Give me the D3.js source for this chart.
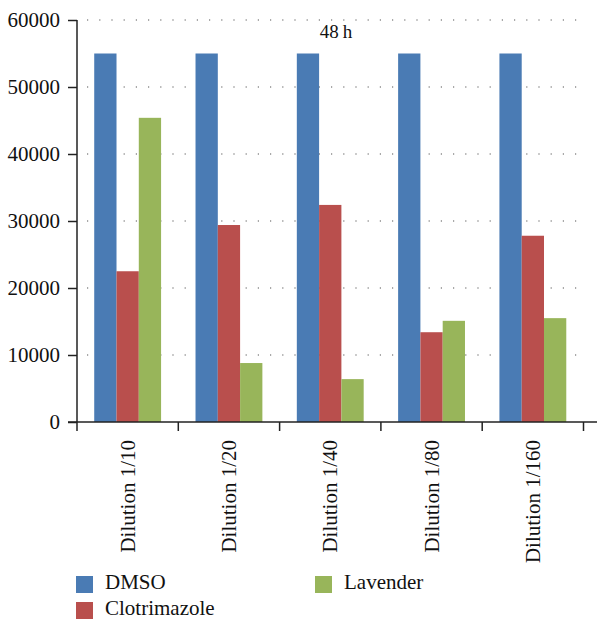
<!DOCTYPE html>
<html>
<head>
<meta charset="utf-8">
<script src="https://cdn.jsdelivr.net/npm/d3@7"></script>
<style>
  body { margin: 0; background: #fff; }
</style>
</head>
<body>
<div id="chart"></div>
<script>
var categories = ["Dilution 1/10", "Dilution 1/20", "Dilution 1/40", "Dilution 1/80", "Dilution 1/160"];
var seriesNames = ["DMSO", "Clotrimazole", "Lavender"];
var dmso = [55000, 55000, 55000, 55000, 55000];
var clotrimazole = [22500, 29400, 32400, 13400, 27800];
var lavender = [45400, 8800, 6400, 15100, 15500];
var yTicks = [0, 10000, 20000, 30000, 40000, 50000, 60000];
var colors = ["#4a7bb4", "#b94f4d", "#98b55a"];

var FONT = "'Liberation Serif', 'Times New Roman', serif";

var svgWidth = 597;
var svgHeight = 619;
var margin = { top: 20, right: 14, bottom: 197, left: 77 };
var width = svgWidth - margin.left - margin.right;
var height = svgHeight - margin.top - margin.bottom;

var svg = d3.select("#chart").append("svg")
  .attr("width", svgWidth)
  .attr("height", svgHeight)
  .attr("font-family", FONT);

var g = svg.append("g").attr("transform", `translate(${margin.left}, ${margin.top})`);

var values = [dmso, clotrimazole, lavender];
var rows = categories.map(function(c, i) {
  return { cat: c, vals: values.map(function(v) { return v[i]; }) };
});

var x0 = d3.scaleBand().domain(categories).range([0, 506.5]).paddingInner(0.34).paddingOuter(0.17);
var x1 = d3.scaleBand().domain(seriesNames).range([0, x0.bandwidth()]);
var y = d3.scaleLinear().domain([0, 60000]).range([height, 0]);

// dotted gridlines
g.selectAll(".grid")
  .data(yTicks.slice(1))
  .enter().append("line")
  .attr("x1", 10).attr("x2", width)
  .attr("y1", function(d) { return y(d); })
  .attr("y2", function(d) { return y(d); })
  .attr("stroke", "#555")
  .attr("stroke-width", 1.2)
  .attr("stroke-dasharray", "1.2,11");

// bars
var groups = g.selectAll(".grp")
  .data(rows)
  .enter().append("g")
  .attr("transform", function(d) { return `translate(${x0(d.cat)},0)`; });

groups.selectAll("rect")
  .data(function(d) { return d.vals.map(function(v, j) { return { s: seriesNames[j], v: v, j: j }; }); })
  .enter().append("rect")
  .attr("x", function(d) { return x1(d.s); })
  .attr("width", x1.bandwidth())
  .attr("y", function(d) { return y(d.v); })
  .attr("height", function(d) { return height - y(d.v); })
  .attr("fill", function(d) { return colors[d.j]; });

// y axis
var leftAxis = d3.axisLeft(y).tickValues(yTicks).tickSize(9).tickPadding(8).tickFormat(d3.format("d"));
var yAxis = g.append("g").call(leftAxis).attr("font-family", FONT).attr("font-size", 21);
yAxis.select(".domain").remove();
yAxis.append("line").attr("x1", 0).attr("x2", 0).attr("y1", 0).attr("y2", height)
  .attr("stroke", "#222").attr("stroke-width", 1.5);
yAxis.selectAll(".tick line").attr("stroke", "#222").attr("stroke-width", 1.5);
yAxis.selectAll("text").attr("fill", "#111");

// x axis
var xTickPos = d3.range(categories.length + 1).map(function(i) { return i * x0.step(); });
var xa = g.append("g").attr("transform", `translate(0, ${height})`);
xa.append("line").attr("x1", -9).attr("x2", svgWidth - margin.left).attr("y1", 0).attr("y2", 0)
  .attr("stroke", "#222").attr("stroke-width", 1.5);
xa.selectAll(".xl").data(categories).enter().append("text")
  .attr("transform", function(d) { return `translate(${x0(d) + x0.bandwidth() / 2 + 7},18) rotate(-90)`; })
  .attr("text-anchor", "end")
  .attr("font-size", 21)
  .attr("fill", "#111")
  .text(function(d) { return d; });
xa.selectAll(".xt").data(xTickPos).enter().append("line")
  .attr("x1", function(d) { return d; }).attr("x2", function(d) { return d; })
  .attr("y1", 0).attr("y2", 9)
  .attr("stroke", "#222").attr("stroke-width", 1.5);

// title
svg.append("text").attr("x", 336).attr("y", 38).attr("text-anchor", "middle")
  .attr("font-size", 19).attr("fill", "#111").text("48\u2009h");

// legend
var legendPos = [[76, 576], [76, 602], [315, 576]];
var legend = svg.selectAll(".legend").data(seriesNames).enter().append("g")
  .attr("transform", function(d, i) { return `translate(${legendPos[i][0]},${legendPos[i][1]})`; });
legend.append("rect").attr("width", 17).attr("height", 17).attr("fill", function(d, i) { return colors[i]; });
legend.append("text").attr("x", 29).attr("y", 13).attr("font-size", 21).attr("fill", "#111")
  .text(function(d) { return d; });
</script>
</body>
</html>
